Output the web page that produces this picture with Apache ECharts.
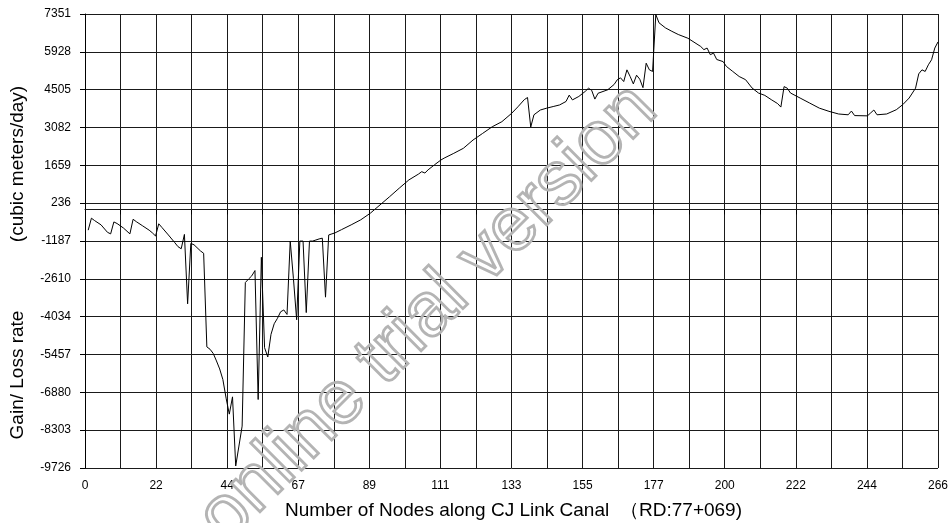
<!DOCTYPE html>
<html>
<head>
<meta charset="utf-8">
<script src="https://cdn.jsdelivr.net/npm/echarts@6/dist/echarts.min.js"></script>
<style>
  html, body { margin: 0; padding: 0; background: #fff; }
  #chart { width: 951px; height: 523px; }
</style>
</head>
<body>
<div id="chart"></div>
<script>
// Node numbers along the canal and the gain/loss rate at each node (cubic meters/day)
const nodes = [
  1, 2, 3, 5, 7, 8, 9, 10, 12, 14, 15, 16, 18, 20, 21, 22, 23, 24, 26, 28,
  29, 30, 31, 32, 33, 34, 36, 37, 38, 39, 40, 41, 42, 43, 44, 45, 46, 47, 48, 49,
  50, 51, 52, 53, 54, 55, 56, 57, 58, 59, 60, 61, 62, 63, 64, 65, 66, 67, 68, 69,
  70, 71, 72, 73, 74, 75, 76, 77, 78, 80, 83, 86, 89, 92, 95, 98, 101, 104, 105, 106,
  107, 109, 111, 112, 115, 118, 121, 124, 127, 130, 133, 135, 137, 138, 139, 140, 142, 144, 146, 148,
  150, 151, 152, 154, 156, 157, 158, 159, 160, 163, 165, 166, 167, 168, 169, 170, 171, 172, 173, 174,
  175, 176, 177, 178, 179, 181, 183, 185, 188, 192, 193, 194, 195, 196, 197, 199, 200, 202, 204, 206,
  208, 210, 212, 214, 216, 217, 218, 219, 220, 223, 226, 229, 232, 235, 238, 239, 240, 244, 245, 246,
  247, 250, 253, 255, 257, 259, 260, 261, 262, 263, 264, 265, 266
];
const gainLoss = [
  -780, -330, -420, -580, -860, -920, -470, -530, -700, -920, -370, -460, -620, -780, -880, -1000, -540, -680, -960, -1250,
  -1400, -1480, -940, -3550, -1280, -1330, -1560, -1650, -5170, -5260, -5420, -5700, -6000, -6400, -7100, -7700, -7050, -9650, -8900, -8150,
  -2750, -2620, -2500, -2300, -7150, -1800, -5200, -5550, -4700, -4300, -4100, -3850, -3780, -3950, -1190, -2600, -4150, -1190, -1190, -3880,
  -1190, -1190, -1150, -1110, -1080, -3300, -960, -920, -880, -760, -580, -390, -140, 170, 480, 800, 1110, 1330, 1420, 1370,
  1490, 1680, 1860, 1930, 2110, 2300, 2610, 2860, 3110, 3300, 3610, 3860, 4130, 4210, 3100, 3560, 3740, 3810, 3870, 3930,
  4060, 4300, 4120, 4250, 4440, 4560, 4480, 4150, 4370, 4500, 4700, 4880, 4950, 4810, 5250, 5000, 4720, 5050, 4900, 4580,
  5500, 5250, 5190, 7330, 7020, 6830, 6700, 6580, 6440, 6130, 6010, 6070, 5820, 5880, 5640, 5560, 5380, 5190, 5000, 4880,
  4570, 4380, 4290, 4130, 3980, 3850, 4620, 4560, 4380, 4190, 4000, 3810, 3690, 3590, 3560, 3700, 3530, 3520, 3630, 3740,
  3560, 3590, 3750, 3940, 4190, 4560, 5100, 5250, 5190, 5440, 5630, 6070, 6300
];

// Axis tick labels, bottom to top / left to right
const xTickLabels = ['0', '22', '44', '67', '89', '111', '133', '155', '177', '200', '222', '244', '266'];
const yTickLabels = ['-9726', '-8303', '-6880', '-5457', '-4034', '-2610', '-1187', '236', '1659', '3082', '4505', '5928', '7351'];

const xMin = 0, xMax = 266;
const yMin = -9726, yMax = 7351;

const xTitleMain = 'Number of Nodes along CJ Link Canal';
const xTitleNote = '\uFF08RD:77+069)';
const yTitleMain = 'Gain/ Loss rate';
const yTitleUnit = '(cubic meters/day)';
const stampText = 'online trial version';

// Grid lines every half label step on x, every label step on y
const xStep = (xMax - xMin) / ((xTickLabels.length - 1) * 2);
const yStep = (yMax - yMin) / (yTickLabels.length - 1);

const series = nodes.map((n, i) => [n, gainLoss[i]]);

const chart = echarts.init(document.getElementById('chart'), null, { renderer: 'canvas' });
const FONT = 'Liberation Sans, Arial, sans-serif';
const TITLE_FONT = '19px ' + FONT;

chart.setOption({
  animation: false,
  backgroundColor: '#ffffff',
  grid: { left: 85, right: 13, top: 14, bottom: 55, containLabel: false },
  xAxis: {
    type: 'value',
    min: xMin,
    max: xMax,
    interval: xStep,
    axisLine: { show: true, lineStyle: { color: '#000', width: 1 } },
    axisTick: { show: true, length: 5, lineStyle: { color: '#000' } },
    splitLine: { show: true, lineStyle: { color: '#1a1a1a', width: 1 } },
    axisLabel: {
      color: '#000', fontFamily: FONT, fontSize: 12, margin: 12,
      showMinLabel: true, showMaxLabel: true,
      formatter: function (v) {
        const k = Math.round((v - xMin) / xStep);
        return k % 2 === 0 ? (xTickLabels[k / 2] || '') : '';
      }
    }
  },
  yAxis: {
    type: 'value',
    min: yMin,
    max: yMax,
    interval: yStep,
    axisLine: { show: true, lineStyle: { color: '#000', width: 1 } },
    axisTick: { show: true, length: 5, lineStyle: { color: '#000' } },
    splitLine: { show: true, lineStyle: { color: '#1a1a1a', width: 1 } },
    axisLabel: {
      color: '#000', fontFamily: FONT, fontSize: 12, margin: 14,
      showMinLabel: true, showMaxLabel: true,
      formatter: function (v) {
        const k = Math.round((v - yMin) / yStep);
        return yTickLabels[k] || '';
      }
    }
  },
  series: [{
    type: 'line',
    data: series,
    symbol: 'none',
    lineStyle: { color: '#000', width: 1 },
    markLine: {
      silent: true,
      symbol: 'none',
      label: { show: false },
      lineStyle: { color: '#1a1a1a', width: 1, type: 'solid' },
      data: [{ yAxis: 0 }]
    }
  }],
  graphic: [
    {
      type: 'text',
      x: 285,
      y: 511,
      style: { text: xTitleMain, font: TITLE_FONT, fill: '#000', align: 'left', verticalAlign: 'middle' }
    },
    {
      type: 'text',
      x: 742,
      y: 511,
      style: { text: xTitleNote, font: TITLE_FONT, fill: '#000', align: 'right', verticalAlign: 'middle' }
    },
    {
      type: 'text',
      x: 18,
      y: 375,
      rotation: Math.PI / 2,
      style: { text: yTitleMain, font: TITLE_FONT, fill: '#000', align: 'center', verticalAlign: 'middle' }
    },
    {
      type: 'text',
      x: 18,
      y: 164,
      rotation: Math.PI / 2,
      style: { text: yTitleUnit, font: TITLE_FONT, fill: '#000', align: 'center', verticalAlign: 'middle' }
    },
    {
      type: 'text',
      x: 428,
      y: 314,
      rotation: Math.PI / 4,
      z: 100,
      style: {
        text: stampText, font: '76px ' + FONT,
        fill: 'rgba(255,255,255,0)', stroke: '#b4b4b4', lineWidth: 2.8,
        align: 'center', verticalAlign: 'middle'
      }
    }
  ]
});
</script>
</body>
</html>
